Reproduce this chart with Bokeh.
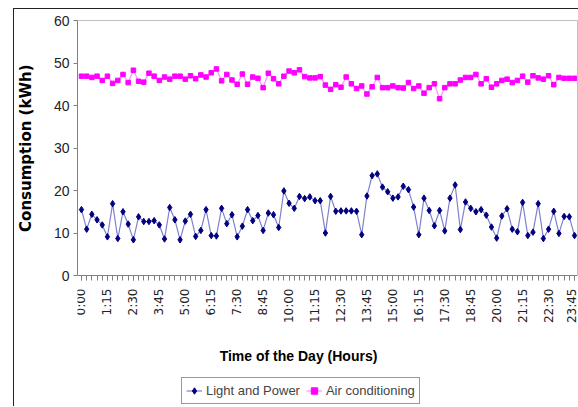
import math
from bokeh.plotting import figure
from bokeh.models import (Range1d, FixedTicker, Legend, LegendItem, Label, LinearAxis, Title)
from bokeh.embed import file_html
from bokeh.resources import INLINE

# ---- data (96 quarter-hour readings, kWh) ----
light_power = [15.5, 10.9, 14.4, 13.1, 11.9, 9.1, 16.9, 8.7, 15.0, 12.1,
               8.4, 13.8, 12.7, 12.7, 12.9, 11.9, 8.6, 16.0, 13.1, 8.4,
               12.8, 14.4, 9.2, 10.6, 15.5, 9.4, 9.3, 15.8, 12.2, 14.3,
               9.1, 11.6, 15.5, 12.9, 14.1, 10.6, 14.7, 14.3, 11.3, 19.9,
               17.0, 15.8, 18.6, 18.1, 18.5, 17.6, 17.6, 10.0, 18.6, 15.1,
               15.2, 15.2, 15.2, 15.1, 9.6, 18.7, 23.5, 23.9, 20.8, 19.7,
               18.2, 18.5, 21.0, 20.2, 16.1, 9.6, 18.2, 15.3, 11.7, 15.3,
               10.5, 18.2, 21.3, 10.8, 17.3, 15.8, 15.0, 15.5, 14.2, 11.4,
               8.8, 14.0, 15.7, 10.9, 10.3, 17.2, 9.4, 10.2, 16.9, 8.7,
               10.9, 15.1, 9.9, 13.9, 13.8, 9.4]
air_conditioning = [46.9, 46.9, 46.6, 46.9, 45.9, 46.9, 45.2, 45.9, 47.3, 45.4,
                    48.3, 45.7, 45.5, 47.6, 46.9, 45.9, 46.7, 46.2, 46.9, 46.9,
                    46.2, 47.0, 46.3, 47.2, 46.7, 47.7, 48.6, 45.8, 47.3, 46.0,
                    45.0, 47.4, 45.0, 46.7, 46.4, 44.2, 47.6, 46.3, 45.1, 46.9,
                    48.1, 47.7, 48.4, 46.8, 46.5, 46.5, 46.8, 44.8, 43.8, 44.9,
                    44.3, 46.7, 45.1, 44.0, 44.6, 42.7, 44.4, 46.6, 44.2, 44.2,
                    44.6, 44.2, 44.1, 45.4, 44.0, 44.6, 42.9, 44.2, 45.1, 41.6,
                    44.2, 45.1, 45.1, 46.0, 46.6, 46.6, 47.3, 45.1, 46.3, 44.3,
                    45.1, 45.9, 46.2, 45.4, 45.9, 46.9, 45.5, 47.0, 46.5, 46.2,
                    47.0, 44.9, 46.6, 46.4, 46.4, 46.4]
slots = list(range(len(light_power)))  # category index of each quarter hour
tick_slots = [0, 5, 10, 15, 20, 25, 30, 35, 40, 45, 50, 55, 60, 65, 70, 75, 80, 85, 90, 95]
tick_labels = ["0:00", "1:15", "2:30", "3:45", "5:00", "6:15", "7:30", "8:45",
               "10:00", "11:15", "12:30", "13:45", "15:00", "16:15", "17:30",
               "18:45", "20:00", "21:15", "22:30", "23:45"]
y_ticks = [0, 10, 20, 30, 40, 50, 60]
y_min, y_max = 0, 60

# ---- geometry (pixels) ----
W, H = 578, 406
TOP, PLOT_BOTTOM = 20, 275          # plot area rows
FRAME_L, FRAME_R = 74, 577          # frame columns
FIRST_PX, LAST_PX = 78, 574         # where the first / last slot sit
px_per_slot = (LAST_PX - FIRST_PX) / (len(slots) - 1)
x_start = slots[0] - (FIRST_PX - FRAME_L) / px_per_slot
x_end = slots[-1] + (FRAME_R - LAST_PX) / px_per_slot
px_per_unit = (PLOT_BOTTOM - TOP) / (y_max - y_min)
y_low = y_min - (H - PLOT_BOTTOM) / px_per_unit   # room below the axis for labels/legend

p = figure(width=W, height=H, output_backend="svg", toolbar_location=None,
           x_range=Range1d(x_start, x_end), y_range=Range1d(y_low, y_max),
           x_axis_location=None,
           min_border_left=FRAME_L, min_border_top=TOP, min_border_right=W - FRAME_R,
           min_border_bottom=0)
# dark chart-area border (top and left), drawn behind a transparent canvas
p.styles = {"background": "linear-gradient(#222222,#222222) 13px 8px / 1px 100% no-repeat, "
                          "linear-gradient(#222222,#222222) 13px 8px / 100% 1px no-repeat, white"}
p.background_fill_color = None
p.border_fill_color = None
p.outline_line_color = None
p.xgrid.visible = False
p.ygrid.visible = False

# y axis (left)
ya = p.yaxis[0]
ya.bounds = (y_min, y_max)
ya.ticker = FixedTicker(ticks=y_ticks)
ya.major_tick_in = 0
ya.major_tick_out = 4
ya.minor_tick_line_color = None
ya.axis_line_color = "#808080"
ya.major_tick_line_color = "#808080"
ya.major_label_text_font = "Liberation Sans"
ya.major_label_text_font_size = "14px"
ya.major_label_text_color = "#222222"
ya.major_label_standoff = 4

# y title: a left-side title so it can be centred on the 0..60 plot area
yt = Title(text="Consumption (kWh)", align="right", offset=44,
           vertical_align="middle", standoff=30,
           text_font="DejaVu Sans", text_font_style="bold",
           text_font_size="15px", text_color="#000000")
p.add_layout(yt, "left")

# plot-area border: top and right (light grey)
top_axis = LinearAxis(ticker=FixedTicker(ticks=[]), axis_line_color="#C0C0C0",
                      major_tick_line_color=None, minor_tick_line_color=None,
                      major_label_text_color=None)
p.add_layout(top_axis, "above")
right_axis = LinearAxis(ticker=FixedTicker(ticks=[]), bounds=(y_min, y_max),
                        axis_line_color="#C0C0C0", major_tick_line_color=None,
                        minor_tick_line_color=None, major_label_text_color=None)
p.add_layout(right_axis, "right")

# x axis fixed at y = 0
xa = LinearAxis(fixed_location=y_min)
xa.ticker = FixedTicker(ticks=tick_slots, minor_ticks=slots)
xa.major_label_overrides = {t: l for t, l in zip(tick_slots, tick_labels)}
xa.major_label_orientation = math.pi / 2
xa.major_tick_in = 0
xa.major_tick_out = 5
xa.minor_tick_in = 0
xa.minor_tick_out = 5
xa.axis_line_color = "#808080"
xa.major_tick_line_color = "#808080"
xa.minor_tick_line_color = "#808080"
xa.major_label_text_font = "DejaVu Sans"
xa.major_label_text_font_size = "12px"
xa.major_label_text_color = "#222222"
xa.major_label_standoff = 8
p.add_layout(xa, "below")

# series
l1 = p.line(slots, light_power, line_color="#8080D0", line_width=1.2)
s1 = p.scatter(slots, light_power, marker="diamond", size=6.5,
               fill_color="#000080", line_color="#000080")
l2 = p.line(slots, air_conditioning, line_color="#FF8CFF", line_width=1.2)
s2 = p.scatter(slots, air_conditioning, marker="square", size=4.5,
               fill_color="#FF00FF", line_color="#FF00FF")

# x title, centred on the chart area as in the original
xt = Label(x=295 - FRAME_L, y=H - 355, x_units="screen", y_units="screen",
           text="Time of the Day (Hours)", text_align="center",
           text_baseline="middle", text_font="Liberation Sans",
           text_font_style="bold", text_font_size="14px", text_color="#000000")
p.add_layout(xt)

legend = Legend(items=[LegendItem(label="Light and Power", renderers=[l1, s1]),
                       LegendItem(label="Air conditioning", renderers=[l2, s2])],
                orientation="horizontal", location=(178 - FRAME_L, 2))
legend.label_text_font = "Liberation Sans"
legend.label_text_font_size = "13px"
legend.label_height = 17
legend.glyph_height = 17
legend.glyph_width = 16
legend.label_standoff = 4
legend.spacing = 6
legend.padding = 4
legend.margin = 0
legend.border_line_color = "#333333"
legend.border_line_width = 1
legend.background_fill_color = "white"
legend.background_fill_alpha = 1
p.add_layout(legend, "center")

open("out.html", "w").write(file_html(p, INLINE))
